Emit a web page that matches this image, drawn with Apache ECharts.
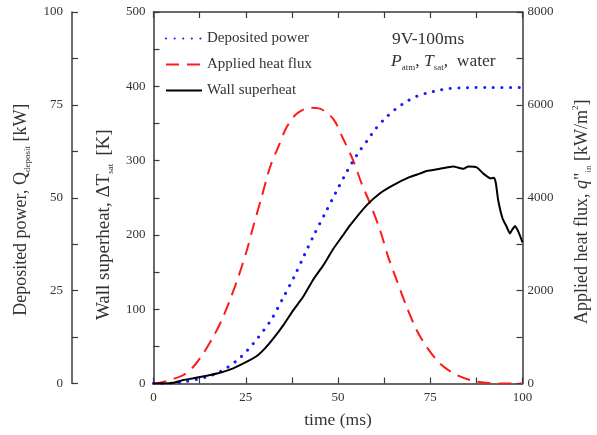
<!DOCTYPE html>
<html>
<head>
<meta charset="utf-8">
<script src="https://cdn.jsdelivr.net/npm/echarts@6/dist/echarts.min.js"></script>
<style>html,body{margin:0;padding:0;background:#fff;}#chart{width:597px;height:435px;}</style>
</head>
<body>
<div id="chart"></div>
<script>
// ---- data ----
var powerTime = [0, 5, 8, 11.7, 14.5, 17.1, 20, 23.0, 25.5, 28.0, 30, 32.0, 35.2, 38.1, 40.8, 43.6, 46.5, 49.5, 52.5, 54.1, 56.0, 58.0, 60.0, 62.7, 65.4, 68.4, 71.3, 74.2, 77.2, 80, 85, 90, 100];
var powerKW   = [0, 0.1, 0.4, 1.1, 1.8, 2.7, 4.3, 6.5, 9.0, 11.9, 14.5, 17.3, 23.2, 28.7, 34.4, 40.2, 45.8, 51.6, 57.2, 59.9, 62.8, 65.5, 68.3, 71.3, 73.7, 75.8, 77.3, 78.2, 78.9, 79.4, 79.6, 79.7, 79.7];

var fluxTime = [0, 2, 4.5, 8.1, 10.8, 13.5, 16.2, 18.5, 20.7, 23.0, 25.3, 27.0, 29.3, 31.6, 33.8, 36.1, 38.8, 42.4, 45.1, 48.7, 51.4, 54.1, 56.4, 58.7, 61.4, 63.6, 65.9, 68.6, 71.3, 74.0, 77.6, 82.2, 87.6, 93.9, 100];
var fluxKWm2 = [0, 20, 75, 183, 361, 649, 1006, 1366, 1796, 2297, 2871, 3372, 4017, 4662, 5092, 5523, 5810, 5940, 5918, 5700, 5270, 4806, 4305, 3875, 3301, 2727, 2226, 1652, 1151, 791, 434, 183, 39, 0, 0];

var superheatTime = [0, 3, 5.4, 8.1, 10.8, 14.4, 18.0, 21.6, 25.3, 28.0, 30.2, 32.5, 35.2, 37.9, 40.6, 43.3, 46.0, 48.7, 51.0, 53.3, 57.8, 61.4, 65.0, 69.5, 72.2, 74.0, 77.6, 81.2, 84.0, 85.3, 87.6, 89.4, 91.4, 92.3, 92.8, 93.4, 94.6, 95.7, 96.6, 97.2, 98.0, 98.9, 100];
var superheatK    = [0, 0, 1, 4.7, 7, 10.5, 14.5, 20.4, 29.3, 37, 47.3, 60.8, 78.6, 98.8, 117, 140, 159, 181, 197, 213, 240, 256, 267, 278, 282.5, 286, 289, 292, 289, 292, 291, 282.5, 276, 277, 269, 247, 222, 211, 202, 207, 212, 204, 190];

var timeTicks = [0, 25, 50, 75, 100];
var legendNames = ['Deposited power', 'Applied heat flux', 'Wall superheat'];

function pairs(xs, ys) { return xs.map(function (x, i) { return [x, ys[i]]; }); }

var FONT = 'Liberation Serif';
var AX = '#3a3a3a';
var TXT = '#333';

function makeRich(fs) {
  return {
    n: { fontFamily: FONT, fontSize: fs, color: TXT, lineHeight: 22 },
    i: { fontFamily: FONT, fontSize: fs, color: TXT, lineHeight: 22, fontStyle: 'italic' },
    s: { fontFamily: FONT, fontSize: 9, color: TXT, lineHeight: 22, verticalAlign: 'bottom' },
    p: { fontFamily: FONT, fontSize: 9, color: TXT, lineHeight: 22, verticalAlign: 'top' },
    g: { fontFamily: FONT, fontSize: fs, color: TXT, lineHeight: 22, width: 8 }
  };
}

function yAxisBase(min, max, interval) {
  return {
    type: 'value', min: min, max: max, interval: interval,
    axisLine: { show: true, onZero: false, lineStyle: { color: AX, width: 1.5 } },
    axisTick: { show: true, inside: true, length: 6, lineStyle: { color: AX, width: 1.2 } },
    minorTick: { show: true, splitNumber: 2, length: 6, lineStyle: { color: AX, width: 1.2 } },
    splitLine: { show: false },
    axisLabel: { color: TXT, fontFamily: FONT, fontSize: 13, formatter: function (v) { return String(v); } },
    nameLocation: 'middle', nameRotate: 90
  };
}

var yWall = yAxisBase(0, 500, 100);
yWall.position = 'left';
yWall.axisLabel.margin = 8;
yWall.name = '{n|Wall superheat, \u0394T}{s|sat}{g| }{n|[K]}';
yWall.nameGap = 36;
yWall.nameTextStyle = { color: TXT, fontFamily: FONT, fontSize: 19, padding: [0, 54, 0, 0], rich: makeRich(19) };

var yFlux = yAxisBase(0, 8000, 2000);
yFlux.position = 'right';
yFlux.axisLabel.margin = 5;
yFlux.name = '{n|Applied heat flux, }{i|q}{n|"}{s|in}{n| [kW/m}{p|2}{n|]}';
yFlux.nameGap = 49;
yFlux.nameTextStyle = { color: TXT, fontFamily: FONT, fontSize: 18, padding: [0, 28, 0, 0], rich: makeRich(18) };

var yPower = yAxisBase(0, 100, 25);
yPower.position = 'left';
yPower.offset = 81.5;
yPower.axisLabel.margin = 9;
yPower.name = '{n|Deposited power, Q}{s|deposit}{n| [kW]}';
yPower.nameGap = 40;
yPower.nameTextStyle = { color: TXT, fontFamily: FONT, fontSize: 18, padding: [0, 24, 0, 0], rich: makeRich(18) };

function xAxisBase(pos, showLabels) {
  return {
    type: 'value', position: pos, min: 0, max: 100, interval: 25,
    axisLine: { show: true, onZero: false, lineStyle: { color: AX, width: 1.5 } },
    axisTick: { show: true, inside: true, length: 6, lineStyle: { color: AX, width: 1.2 } },
    minorTick: { show: true, splitNumber: 2, length: 6, lineStyle: { color: AX, width: 1.2 } },
    splitLine: { show: false },
    axisLabel: {
      show: showLabels, color: TXT, fontFamily: FONT, fontSize: 13, margin: 8,
      formatter: function (v) { return timeTicks.indexOf(v) >= 0 ? String(v) : ''; }
    }
  };
}

var xBottom = xAxisBase('bottom', true);
xBottom.name = 'time (ms)';
xBottom.nameLocation = 'middle';
xBottom.nameGap = 28;
xBottom.nameTextStyle = { color: TXT, fontFamily: FONT, fontSize: 17.5 };
var xTop = xAxisBase('top', false);

var option = {
  backgroundColor: '#fff',
  animation: false,
  grid: { left: 153.5, right: 74.5, top: 12, bottom: 51.5, containLabel: false, outerBoundsMode: 'none' },
  legend: {
    orient: 'vertical', left: 160, top: 26,
    itemWidth: 36, itemHeight: 14, itemGap: 11,
    itemStyle: { opacity: 0 },
    textStyle: { fontFamily: FONT, fontSize: 15, color: TXT },
    data: legendNames
  },
  xAxis: [xBottom, xTop],
  yAxis: [yWall, yFlux, yPower],
  graphic: [
    { type: 'text', left: 392, top: 30, style: { text: '9V-100ms', fontFamily: FONT, fontSize: 17.5, fill: TXT } },
    { type: 'text', left: 391, top: 52, style: {
        text: '{i|P}{s|atm}{n|, }{i|T}{s|sat}{n|,  water}',
        rich: {
          n: { fontFamily: FONT, fontSize: 17.5, fill: TXT, lineHeight: 22 },
          i: { fontFamily: FONT, fontSize: 17.5, fill: TXT, fontStyle: 'italic', lineHeight: 22 },
          s: { fontFamily: FONT, fontSize: 9, fill: TXT, lineHeight: 22, verticalAlign: 'bottom' }
        } } }
  ],
  series: [
    {
      name: legendNames[0], type: 'line', xAxisIndex: 0, yAxisIndex: 2,
      data: pairs(powerTime, powerKW), symbol: 'none', smooth: 0.3, z: 3,
      lineStyle: { color: '#1a1aff', width: 3, type: [0.1, 8.5], cap: 'round' },
      itemStyle: { color: '#1a1aff' }
    },
    {
      name: legendNames[1], type: 'line', xAxisIndex: 0, yAxisIndex: 1,
      data: pairs(fluxTime, fluxKWm2), symbol: 'none', smooth: 0.3, z: 2,
      lineStyle: { color: '#ff1a1a', width: 2, type: [13, 8] },
      itemStyle: { color: '#ff1a1a' }
    },
    {
      name: legendNames[2], type: 'line', xAxisIndex: 0, yAxisIndex: 0,
      data: pairs(superheatTime, superheatK), symbol: 'none', smooth: 0.15, z: 4,
      lineStyle: { color: '#000', width: 2 },
      itemStyle: { color: '#000' }
    }
  ]
};

var chart = echarts.init(document.getElementById('chart'), null, { renderer: 'canvas' });
chart.setOption(option);
</script>
</body>
</html>
